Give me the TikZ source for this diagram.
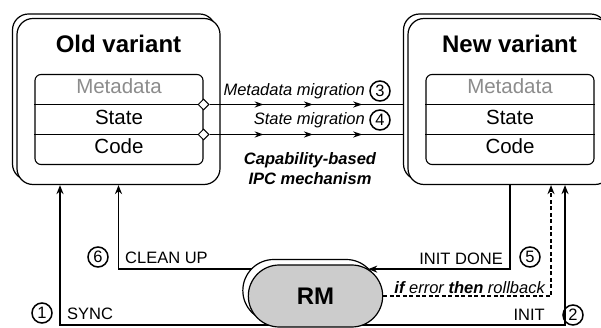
\documentclass[tikz,border=0pt]{standalone}
\usepackage{fontspec}
\setmainfont{Liberation Sans}
\usetikzlibrary{positioning,shapes.geometric,shapes.misc,arrows.meta,decorations.markings,backgrounds}
\definecolor{metagray}{RGB}{140,140,140}
\definecolor{rmgray}{RGB}{204,204,204}

\begin{document}
\begin{tikzpicture}[x=1pt,y=-1pt,
    variant/.style={draw,line width=1.2pt,fill=white,rounded corners=16pt,minimum width=203pt,minimum height=166pt},
    title/.style={font=\fontsize{24}{28}\selectfont\bfseries,anchor=base},
    mem/.style={draw,line width=1.1pt,rounded corners=6pt,minimum width=168pt,minimum height=90pt},
    rowtxt/.style={font=\fontsize{20.5}{24}\selectfont,anchor=base},
    dia/.style={diamond,draw,fill=white,line width=1pt,minimum width=11pt,minimum height=11pt,inner sep=0pt},
    num/.style={circle,draw,line width=1.5pt,minimum size=20pt,inner sep=0pt,font=\fontsize{16.5}{20}\selectfont},
    lbl/.style={inner sep=2pt,font=\fontsize{16.5}{20}\selectfont},
    itlbl/.style={inner sep=2pt,font=\fontsize{16.5}{20}\selectfont\itshape},
    bilbl/.style={inner sep=2pt,font=\fontsize{16.5}{20}\selectfont\bfseries\itshape},
    arr/.style={line width=1.8pt,-{Stealth[length=9pt,width=7pt]}},
    mig/.style={line width=1.8pt,postaction={decorate},decoration={markings,
        mark=at position 0.28 with {\arrow{Stealth[length=9pt,width=6pt]}},
        mark=at position 0.535 with {\arrow{Stealth[length=9pt,width=6pt]}},
        mark=at position 0.79 with {\arrow{Stealth[length=9pt,width=6pt]}}}},
    rmnode/.style={rounded rectangle,draw,line width=1.2pt,fill=rmgray,minimum width=141pt,minimum height=62pt,
        font=\fontsize{24}{28}\selectfont\bfseries}]
    \path[use as bounding box] (0,0) rectangle (601,328);
    \clip (0,0) rectangle (601,328);

    \coordinate (upperY) at (0,269);
    \coordinate (lowerY) at (0,325);
    \coordinate (syncX) at (60,0);
    \coordinate (initX) at (565,0);
    \coordinate (doneX) at (510,0);
    \coordinate (backX) at (551,0);

    \node[variant] (oldBack) at (114,97) {};
    \node[variant] (old) at (118.5,101.5) {};
    \node[title] (oldT) at (118.5,53) {Old variant};
    \node[mem] (oldMem) at (119,119.5) {};
    \node[rowtxt,metagray] (oldMeta) at (119,94) {Metadata};
    \node[rowtxt] (oldState) at (119,125) {State};
    \node[rowtxt] (oldCode) at (119,154) {Code};
    \draw[line width=1.1pt] ([yshift=15pt]oldMem.west) -- ([yshift=15pt]oldMem.east);
    \draw[line width=1.1pt] ([yshift=-15pt]oldMem.west) -- ([yshift=-15pt]oldMem.east);
    \node[dia] (oldMetaP) at ([yshift=15pt]oldMem.east) {};
    \node[dia] (oldStateP) at ([yshift=-15pt]oldMem.east) {};

    \node[variant] (newBack) at (505,97) {};
    \node[variant] (new) at (509.5,101.5) {};
    \node[title] (newT) at (509.5,53) {New variant};
    \node[mem] (newMem) at (510,119.5) {};
    \node[rowtxt,metagray] (newMeta) at (510,94) {Metadata};
    \node[rowtxt] (newState) at (510,125) {State};
    \node[rowtxt] (newCode) at (510,154) {Code};
    \draw[line width=1.1pt] ([yshift=15pt]newMem.west) -- ([yshift=15pt]newMem.east);
    \draw[line width=1.1pt] ([yshift=-15pt]newMem.west) -- ([yshift=-15pt]newMem.east);

    \draw[mig] (oldMetaP) -- (oldMetaP -| newBack.west);
    \draw[mig] (oldStateP) -- (oldStateP -| newBack.west);
    \node[num] (n3) at (380,91) {3};
    \node[itlbl,anchor=base east] (metaL) at (367,96) {Metadata migration};
    \node[num] (n4) at (380,120) {4};
    \node[itlbl,anchor=base east] (stateL) at (367,125) {State migration};
    \node[bilbl,align=center] (ipcL) at (310,169) {Capability-based\\IPC mechanism};

    \node[rmnode,fill=white] (rmBack) at (310,290.5) {};
    \node[rmnode] (rm) at (315.5,296) {RM};
    \begin{scope}[on background layer]
        \draw[arr] (rm |- lowerY) -| (old.south -| syncX);
        \draw[arr] (rm |- upperY) -| (old.south);
        \draw[arr] (rm |- lowerY) -| (new.south -| initX);
        \draw[arr,dash pattern=on 4pt off 2.5pt] (rm.east) -| (new.south -| backX);
    \end{scope}
    \draw[arr] (new.south -| doneX) |- (rm.27);

    \node[num] (n1) at (42,313) {1};
    \node[lbl,anchor=base west] (syncL) at (65,319) {SYNC};
    \node[num] (n6) at (98,257) {6};
    \node[lbl,anchor=base west] (cleanL) at (123,263) {CLEAN UP};
    \node[num] (n5) at (530,257) {5};
    \node[lbl,anchor=base east] (doneL) at (505,264) {INIT DONE};
    \node[itlbl,anchor=base east] (backL) at (547,293) {\textbf{if} error \textbf{then} rollback};
    \node[num] (n2) at (573,315) {2};
    \node[lbl,anchor=base east] (initL) at (547,320) {INIT};
\end{tikzpicture}
\end{document}
